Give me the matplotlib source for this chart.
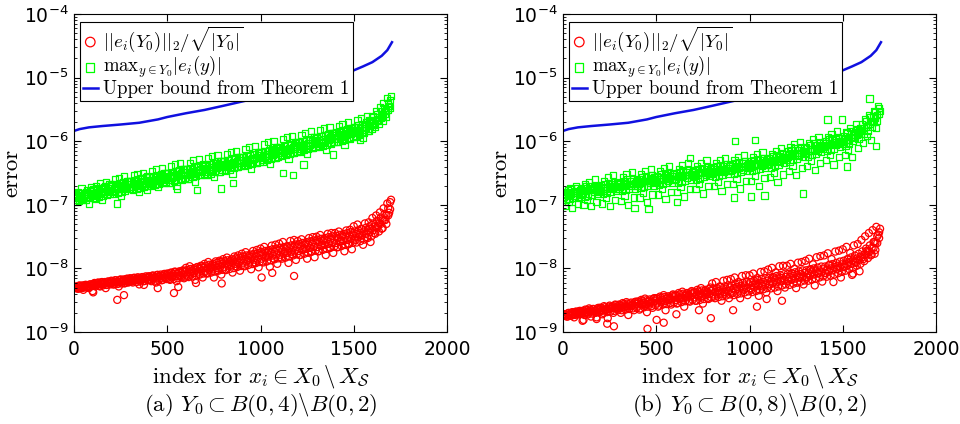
import numpy as np
import matplotlib
matplotlib.use("Agg")
import matplotlib.pyplot as plt
from matplotlib.font_manager import FontProperties
from matplotlib.ticker import LogLocator, NullFormatter, LogFormatterSciNotation

# index positions of the plotted points (every 10th index of X_0 \ X_S, plus the ones in between)
idx = np.arange(0, 1701, 10)
idx2 = np.arange(5, 1700, 10)

# panel (a): Y_0 in B(0,4)\B(0,2)
red_a = np.array([
    5.0, 5.2, 4.8, 5.4, 5.1, 4.6, 5.5, 5.3, 4.9, 5.6,
    4.4, 5.9, 5.5, 6.0, 5.2, 6.1, 5.7, 4.9, 6.2, 5.8,
    6.4, 5.6, 6.5, 6.1, 5.2, 6.7, 6.3, 5.8, 6.8, 6.0,
    7.0, 6.2, 7.1, 6.6, 7.2, 5.6, 6.9, 7.3, 6.4, 7.1,
    7.5, 6.6, 7.7, 7.2, 6.0, 7.9, 7.4, 6.5, 8.0, 7.1,
    8.3, 6.8, 8.6, 7.6, 8.9, 6.3, 8.7, 7.6, 9.2, 7.0,
    10.2, 7.6, 10.8, 8.9, 9.6, 6.6, 10.5, 8.2, 11.0, 7.2,
    11.8, 8.4, 12.6, 10.2, 11.2, 7.2, 12.9, 9.4, 13.2, 8.0,
    14.0, 9.6, 14.8, 11.8, 13.2, 8.6, 15.4, 10.8, 16.0, 9.2,
    17.0, 11.0, 18.0, 13.6, 15.8, 9.7, 18.8, 12.4, 19.5, 10.4,
    20.5, 12.8, 21.8, 15.8, 18.6, 10.6, 22.8, 14.2, 23.6, 11.8,
    24.5, 14.8, 26.0, 18.5, 22.0, 12.2, 27.0, 16.8, 28.0, 13.6,
    27.0, 16.2, 28.7, 20.3, 24.3, 14.2, 30.0, 18.4, 31.0, 15.0,
    31.5, 18.5, 33.5, 23.5, 28.5, 16.2, 35.0, 21.0, 36.0, 17.5,
    36.0, 21.5, 38.0, 27.0, 33.0, 18.6, 39.5, 24.0, 40.5, 20.0,
    46.0, 28.0, 49.0, 34.0, 42.0, 23.5, 51.0, 31.0, 53.0, 26.0,
    62.0, 36.0, 68.0, 46.0, 76.0, 42.0, 88.0, 58.0, 105.0, 75.0,
    120.0]) * 1e-9
red_a2 = np.array([
    5.1, 4.9, 5.3, 5.0, 5.4, 5.2, 5.5, 5.1, 5.6, 5.4,
    5.7, 5.5, 5.9, 5.6, 6.0, 5.8, 6.1, 5.5, 6.2, 6.0,
    6.3, 6.1, 6.5, 6.0, 6.6, 6.2, 6.7, 6.4, 6.9, 6.5,
    6.9, 6.6, 7.1, 6.7, 7.2, 6.9, 7.3, 7.0, 7.5, 7.2,
    7.5, 7.1, 7.7, 7.3, 7.9, 7.5, 8.0, 7.6, 8.2, 7.8,
    8.2, 7.6, 8.5, 8.0, 8.8, 8.2, 9.0, 8.4, 9.3, 8.7,
    9.4, 8.8, 9.8, 9.1, 10.1, 9.5, 10.5, 9.8, 10.8, 10.2,
    11.0, 10.3, 11.4, 10.6, 11.8, 11.0, 12.2, 11.3, 12.6, 11.8,
    13.0, 12.0, 13.4, 12.5, 13.9, 12.9, 14.4, 13.3, 14.8, 13.8,
    15.5, 14.2, 16.0, 14.8, 16.5, 15.3, 17.0, 15.8, 17.5, 16.3,
    18.2, 16.7, 18.8, 17.3, 19.4, 17.8, 20.0, 18.4, 20.6, 19.0,
    21.0, 19.3, 21.7, 20.0, 22.4, 20.6, 23.0, 21.2, 23.8, 21.9,
    24.3, 22.3, 25.1, 23.0, 25.9, 23.8, 26.7, 24.6, 27.6, 25.4,
    28.3, 26.0, 29.2, 26.8, 30.1, 27.7, 31.0, 28.6, 32.0, 29.4,
    32.6, 29.8, 33.7, 30.8, 34.8, 31.8, 35.9, 32.9, 37.0, 34.0,
    38.0, 34.8, 39.6, 36.3, 41.4, 37.9, 43.5, 39.8, 46.0, 42.0,
    51.0, 46.0, 56.0, 51.0, 63.0, 57.0, 72.0, 68.0, 88.0, 110.0]) * 1e-9
red_a3 = np.array([
    4.9, 5.0, 4.8, 5.1, 4.9, 5.2, 5.0, 5.3, 5.1, 5.3,
    5.4, 5.2, 5.6, 5.3, 5.7, 5.4, 5.8, 5.5, 5.9, 5.6,
    5.9, 5.6, 6.1, 5.7, 6.2, 5.8, 6.3, 5.9, 6.4, 6.1,
    6.3, 6.0, 6.5, 6.1, 6.6, 6.2, 6.7, 6.3, 6.8, 6.5,
    6.7, 6.3, 6.9, 6.4, 7.0, 6.5, 7.1, 6.6, 7.3, 6.8,
    7.2, 6.6, 7.4, 6.8, 7.6, 7.0, 7.8, 7.2, 8.0, 7.4,
    8.0, 7.3, 8.3, 7.5, 8.6, 7.8, 8.9, 8.0, 9.2, 8.3,
    9.2, 8.3, 9.5, 8.6, 9.9, 8.9, 10.2, 9.2, 10.6, 9.5,
    10.6, 9.4, 11.0, 9.8, 11.4, 10.1, 11.8, 10.5, 12.2, 10.9,
    12.3, 10.8, 12.8, 11.3, 13.3, 11.7, 13.7, 12.1, 14.2, 12.6,
    14.2, 12.4, 14.8, 12.9, 15.3, 13.4, 15.9, 13.9, 16.5, 14.4,
    16.4, 14.2, 17.0, 14.8, 17.6, 15.4, 18.3, 16.0, 19.0, 16.6,
    18.8, 16.3, 19.5, 17.0, 20.3, 17.6, 21.0, 18.3, 21.8, 19.0,
    21.7, 18.8, 22.6, 19.6, 23.4, 20.3, 24.3, 21.1, 25.2, 21.9,
    25.0, 21.6, 26.0, 22.5, 27.0, 23.4, 28.0, 24.3, 29.0, 25.2,
    29.5, 25.5, 31.0, 26.8, 32.8, 28.3, 34.8, 30.0, 37.0, 32.0,
    40.0, 35.0, 44.0, 38.0, 50.0, 43.0, 57.0, 50.0, 68.0, 85.0]) * 1e-9
red_a_out_idx = [103, 232, 268, 375, 449, 536, 559, 654, 792, 1006, 1063, 1180]
red_a_out = np.array([4.2, 3.2, 3.8, 5.5, 4.9, 4.1, 5.1, 5.9, 5.8, 7.2, 8.5, 7.6]) * 1e-9

green_a = np.array([
    1.4, 1.1, 1.6, 1.3, 1.8, 1.2, 1.5, 1.7, 1.05, 1.9,
    1.7, 1.3, 2.0, 1.5, 2.2, 1.2, 1.9, 2.3, 1.6, 2.1,
    2.1, 1.6, 2.5, 1.8, 2.6, 1.4, 2.2, 2.8, 1.9, 2.4,
    2.4, 1.8, 2.9, 2.1, 3.0, 1.6, 2.6, 3.2, 2.0, 2.8,
    2.7, 2.1, 3.4, 2.4, 3.6, 1.9, 2.9, 3.8, 2.2, 3.2,
    3.1, 2.2, 4.0, 2.7, 4.3, 2.0, 3.4, 4.6, 2.5, 3.7,
    3.6, 2.6, 4.6, 3.1, 5.0, 2.3, 3.9, 5.2, 2.9, 4.3,
    4.1, 3.0, 5.4, 3.6, 5.8, 2.7, 4.5, 6.1, 3.3, 4.9,
    4.8, 3.5, 6.3, 4.2, 6.8, 3.1, 5.2, 7.1, 3.9, 5.7,
    5.7, 4.2, 7.5, 5.0, 8.1, 3.7, 6.2, 8.5, 4.6, 6.8,
    6.8, 5.0, 8.9, 5.9, 9.6, 4.4, 7.4, 10.2, 5.5, 8.1,
    8.2, 6.0, 10.7, 7.1, 11.5, 5.3, 8.9, 12.2, 6.6, 9.7,
    9.7, 7.1, 12.6, 8.4, 13.6, 6.3, 10.5, 14.3, 7.8, 11.4,
    11.3, 8.3, 14.8, 9.8, 15.8, 7.4, 12.3, 16.8, 9.2, 13.3,
    13.4, 9.9, 17.5, 11.6, 18.7, 8.8, 14.6, 19.8, 10.9, 15.8,
    16.4, 12.0, 21.2, 14.3, 22.8, 11.3, 18.6, 25.0, 14.6, 21.0,
    25.0, 18.0, 30.0, 22.0, 34.0, 24.0, 40.0, 30.0, 48.0, 36.0,
    52.0]) * 1e-7
green_a2 = np.array([
    1.45, 1.3, 1.5, 1.35, 1.55, 1.4, 1.6, 1.45, 1.65, 1.5,
    1.75, 1.55, 1.8, 1.6, 1.85, 1.65, 1.95, 1.7, 2.0, 1.8,
    2.05, 1.85, 2.1, 1.9, 2.2, 1.95, 2.25, 2.0, 2.35, 2.1,
    2.35, 2.1, 2.45, 2.2, 2.5, 2.25, 2.6, 2.35, 2.7, 2.45,
    2.7, 2.45, 2.8, 2.55, 2.9, 2.6, 3.0, 2.7, 3.1, 2.8,
    3.1, 2.8, 3.25, 2.9, 3.35, 3.0, 3.5, 3.1, 3.6, 3.25,
    3.6, 3.25, 3.75, 3.35, 3.9, 3.5, 4.0, 3.6, 4.15, 3.75,
    4.15, 3.75, 4.3, 3.9, 4.45, 4.0, 4.6, 4.15, 4.8, 4.3,
    4.8, 4.35, 5.0, 4.5, 5.2, 4.7, 5.4, 4.9, 5.6, 5.1,
    5.7, 5.1, 5.9, 5.3, 6.1, 5.5, 6.3, 5.7, 6.6, 6.0,
    6.7, 6.0, 7.0, 6.3, 7.3, 6.6, 7.6, 6.9, 7.9, 7.2,
    8.1, 7.3, 8.4, 7.6, 8.8, 7.9, 9.1, 8.2, 9.5, 8.6,
    9.7, 8.7, 10.1, 9.1, 10.5, 9.5, 10.9, 9.9, 11.4, 10.3,
    11.5, 10.4, 12.0, 10.8, 12.5, 11.3, 13.0, 11.8, 13.5, 12.3,
    13.7, 12.4, 14.3, 12.9, 14.9, 13.5, 15.5, 14.1, 16.2, 14.8,
    16.6, 15.2, 17.6, 16.0, 18.7, 17.0, 19.9, 18.2, 21.5, 19.6,
    24.0, 21.5, 26.5, 24.0, 29.5, 27.0, 33.0, 31.0, 40.0, 44.0]) * 1e-7
green_a3 = np.array([
    1.2, 1.35, 1.15, 1.3, 1.25, 1.4, 1.2, 1.35, 1.3, 1.45,
    1.4, 1.25, 1.5, 1.35, 1.55, 1.4, 1.6, 1.45, 1.65, 1.5,
    1.65, 1.5, 1.75, 1.55, 1.8, 1.6, 1.85, 1.65, 1.9, 1.75,
    1.9, 1.7, 2.0, 1.8, 2.05, 1.85, 2.1, 1.9, 2.2, 2.0,
    2.2, 1.95, 2.3, 2.05, 2.35, 2.1, 2.45, 2.2, 2.55, 2.3,
    2.5, 2.25, 2.65, 2.35, 2.75, 2.45, 2.85, 2.55, 2.95, 2.65,
    2.9, 2.6, 3.05, 2.7, 3.15, 2.8, 3.3, 2.95, 3.4, 3.05,
    3.35, 3.0, 3.5, 3.1, 3.65, 3.25, 3.8, 3.35, 3.95, 3.5,
    3.9, 3.45, 4.05, 3.6, 4.25, 3.75, 4.4, 3.9, 4.6, 4.1,
    4.6, 4.1, 4.8, 4.25, 5.0, 4.45, 5.2, 4.6, 5.4, 4.8,
    5.4, 4.8, 5.65, 5.0, 5.9, 5.25, 6.15, 5.45, 6.4, 5.7,
    6.5, 5.8, 6.8, 6.0, 7.1, 6.3, 7.4, 6.6, 7.7, 6.9,
    7.7, 6.9, 8.1, 7.2, 8.5, 7.5, 8.8, 7.9, 9.2, 8.2,
    9.1, 8.1, 9.5, 8.5, 10.0, 8.9, 10.4, 9.3, 10.9, 9.7,
    10.8, 9.6, 11.3, 10.1, 11.8, 10.6, 12.4, 11.1, 13.0, 11.6,
    13.3, 11.9, 14.1, 12.6, 15.0, 13.4, 16.0, 14.3, 17.3, 15.4,
    19.0, 17.0, 21.0, 18.5, 23.5, 21.0, 26.5, 24.0, 31.0, 34.0]) * 1e-7
green_a_out_idx = [232, 390, 551, 658, 787, 854, 1119, 1176, 1230, 1390, 1533]
green_a_out = np.array([1.05, 1.7, 1.8, 1.7, 1.8, 2.2, 3.2, 2.9, 4.3, 6.2, 10.5]) * 1e-7

# panel (b): Y_0 in B(0,8)\B(0,2)
red_b = np.array([
    1.85, 1.9, 1.75, 2.0, 1.8, 2.05, 1.7, 2.1, 1.9, 2.15,
    2.1, 1.55, 2.25, 2.0, 2.35, 1.75, 2.3, 2.15, 1.7, 2.4,
    2.4, 1.9, 2.55, 2.2, 1.65, 2.6, 2.45, 2.0, 2.7, 2.3,
    2.7, 2.0, 2.85, 2.45, 2.95, 1.85, 2.8, 2.6, 2.2, 3.0,
    3.0, 2.25, 3.2, 2.7, 3.35, 2.05, 3.1, 2.9, 2.4, 3.4,
    3.4, 2.5, 3.6, 3.0, 3.8, 2.2, 3.5, 3.2, 2.7, 3.9,
    3.8, 2.8, 4.1, 3.4, 4.3, 2.5, 3.9, 3.6, 3.0, 4.4,
    4.2, 3.1, 4.6, 3.8, 4.9, 2.8, 4.4, 4.0, 3.3, 5.0,
    5.8, 3.6, 6.1, 4.4, 5.2, 3.1, 6.4, 4.0, 6.6, 3.4,
    6.8, 4.1, 7.2, 5.1, 6.1, 3.4, 7.6, 4.6, 7.8, 3.8,
    7.8, 4.6, 8.3, 5.8, 7.0, 3.7, 8.8, 5.2, 9.0, 4.2,
    9.6, 5.6, 10.2, 7.2, 8.6, 4.4, 10.8, 6.4, 11.0, 5.0,
    11.0, 6.4, 11.8, 8.3, 9.8, 4.9, 12.3, 7.3, 12.6, 5.6,
    13.2, 7.2, 14.2, 9.6, 11.6, 5.4, 15.0, 8.4, 15.6, 6.2,
    16.0, 8.4, 17.3, 11.4, 14.0, 6.1, 18.4, 9.8, 19.0, 7.2,
    20.0, 10.5, 21.8, 14.0, 17.5, 7.9, 23.0, 12.2, 24.2, 9.0,
    28.0, 14.0, 32.0, 19.0, 36.0, 16.0, 40.0, 26.0, 45.0, 34.0,
    42.0]) * 1e-9
red_b2 = np.array([
    1.9, 1.8, 1.95, 1.85, 2.0, 1.9, 2.05, 1.95, 2.1, 2.0,
    2.15, 2.0, 2.2, 2.05, 2.25, 2.1, 2.3, 2.15, 2.35, 2.2,
    2.4, 2.2, 2.45, 2.3, 2.5, 2.35, 2.55, 2.4, 2.65, 2.45,
    2.65, 2.45, 2.75, 2.55, 2.8, 2.6, 2.9, 2.7, 2.95, 2.75,
    3.0, 2.75, 3.1, 2.85, 3.15, 2.95, 3.25, 3.0, 3.35, 3.1,
    3.35, 3.1, 3.45, 3.2, 3.55, 3.3, 3.65, 3.4, 3.75, 3.5,
    3.75, 3.45, 3.9, 3.6, 4.0, 3.7, 4.1, 3.8, 4.2, 3.9,
    4.2, 3.85, 4.35, 4.0, 4.5, 4.15, 4.6, 4.25, 4.75, 4.4,
    4.75, 4.3, 4.9, 4.5, 5.1, 4.65, 5.2, 4.8, 5.4, 5.0,
    5.4, 4.9, 5.6, 5.1, 5.75, 5.25, 5.9, 5.4, 6.1, 5.6,
    6.1, 5.5, 6.35, 5.75, 6.55, 5.95, 6.8, 6.15, 7.0, 6.4,
    7.1, 6.4, 7.35, 6.65, 7.6, 6.9, 7.85, 7.1, 8.1, 7.35,
    8.15, 7.35, 8.45, 7.6, 8.7, 7.9, 9.0, 8.15, 9.3, 8.45,
    9.35, 8.4, 9.7, 8.7, 10.0, 9.0, 10.3, 9.3, 10.7, 9.7,
    10.7, 9.6, 11.2, 10.0, 11.7, 10.5, 12.2, 11.0, 12.8, 11.6,
    13.2, 11.9, 14.0, 12.6, 14.9, 13.4, 15.9, 14.3, 17.0, 15.4,
    18.5, 16.5, 20.5, 18.5, 23.0, 21.0, 26.0, 25.0, 32.0, 37.0]) * 1e-9
red_b3 = np.array([
    1.8, 1.85, 1.75, 1.9, 1.8, 1.95, 1.85, 2.0, 1.9, 2.0,
    1.95, 1.85, 2.05, 1.9, 2.1, 1.95, 2.15, 2.0, 2.2, 2.05,
    2.15, 2.0, 2.25, 2.05, 2.3, 2.1, 2.35, 2.15, 2.4, 2.2,
    2.4, 2.2, 2.45, 2.25, 2.5, 2.3, 2.55, 2.35, 2.6, 2.4,
    2.6, 2.35, 2.7, 2.45, 2.75, 2.5, 2.8, 2.55, 2.9, 2.65,
    2.9, 2.6, 3.0, 2.7, 3.05, 2.75, 3.15, 2.85, 3.25, 2.9,
    3.2, 2.85, 3.3, 2.95, 3.4, 3.05, 3.5, 3.1, 3.6, 3.2,
    3.5, 3.1, 3.6, 3.2, 3.7, 3.3, 3.8, 3.4, 3.95, 3.5,
    3.9, 3.4, 4.0, 3.55, 4.15, 3.65, 4.25, 3.75, 4.4, 3.9,
    4.35, 3.8, 4.5, 3.95, 4.65, 4.05, 4.8, 4.2, 4.95, 4.35,
    4.9, 4.25, 5.05, 4.4, 5.25, 4.55, 5.4, 4.7, 5.6, 4.9,
    5.6, 4.85, 5.8, 5.0, 6.0, 5.2, 6.25, 5.4, 6.5, 5.6,
    6.4, 5.5, 6.65, 5.75, 6.9, 5.95, 7.15, 6.2, 7.4, 6.45,
    7.4, 6.4, 7.7, 6.65, 8.0, 6.9, 8.3, 7.2, 8.65, 7.5,
    8.5, 7.4, 8.9, 7.7, 9.3, 8.0, 9.7, 8.4, 10.2, 8.8,
    10.5, 9.2, 11.1, 9.7, 11.8, 10.3, 12.6, 11.0, 13.5, 11.8,
    15.0, 13.0, 16.5, 14.5, 18.5, 16.5, 21.0, 19.5, 25.0, 30.0]) * 1e-9
red_b_out_idx = [105, 180, 237, 273, 453, 502, 540, 608, 729, 793, 912, 1040, 1092, 1174, 1555, 1671]
red_b_out = np.array([1.5, 1.6, 1.35, 1.23, 1.12, 1.55, 1.4, 1.9, 2.2, 1.65,
                      2.2, 2.5, 3.3, 3.1, 8.3, 17.0]) * 1e-9

green_b = np.array([
    1.3, 0.95, 1.6, 1.1, 1.8, 0.9, 1.4, 2.0, 1.05, 1.7,
    1.5, 1.0, 2.1, 1.2, 2.3, 0.95, 1.7, 2.5, 1.1, 1.9,
    1.6, 1.05, 2.4, 1.3, 2.7, 0.95, 1.9, 2.9, 1.2, 2.2,
    1.8, 1.15, 2.7, 1.4, 3.0, 1.0, 2.1, 3.3, 1.3, 2.4,
    2.0, 1.3, 3.0, 1.55, 3.4, 1.1, 2.4, 3.7, 1.45, 2.7,
    2.3, 1.45, 3.4, 1.75, 3.8, 1.25, 2.6, 4.1, 1.6, 3.0,
    2.5, 1.6, 3.7, 1.9, 4.2, 1.35, 2.9, 4.6, 1.75, 3.3,
    2.8, 1.75, 4.1, 2.1, 4.6, 1.5, 3.2, 5.0, 1.95, 3.6,
    3.1, 1.95, 4.5, 2.3, 5.1, 1.65, 3.5, 5.5, 2.15, 4.0,
    3.4, 2.15, 5.0, 2.55, 5.6, 1.8, 3.9, 6.1, 2.4, 4.4,
    3.8, 2.4, 5.6, 2.85, 6.3, 2.0, 4.3, 6.8, 2.65, 4.9,
    4.3, 2.7, 6.3, 3.2, 7.1, 2.3, 4.9, 7.8, 3.0, 5.6,
    5.5, 3.4, 8.0, 4.1, 9.0, 2.9, 6.2, 9.8, 3.8, 7.0,
    6.5, 4.1, 9.5, 4.9, 10.8, 3.5, 7.5, 11.8, 4.6, 8.4,
    8.0, 5.0, 11.6, 6.0, 13.0, 4.3, 9.1, 14.2, 5.6, 10.2,
    9.6, 6.0, 14.0, 7.4, 16.0, 5.6, 11.8, 18.5, 7.8, 14.5,
    15.0, 9.5, 22.0, 12.0, 26.0, 10.5, 20.0, 30.0, 16.0, 36.0,
    30.0]) * 1e-7
green_b2 = np.array([
    1.35, 1.2, 1.45, 1.25, 1.5, 1.3, 1.4, 1.55, 1.3, 1.45,
    1.55, 1.35, 1.65, 1.4, 1.7, 1.45, 1.6, 1.75, 1.5, 1.65,
    1.7, 1.5, 1.8, 1.55, 1.85, 1.6, 1.75, 1.95, 1.65, 1.8,
    1.9, 1.65, 2.0, 1.7, 2.1, 1.75, 1.95, 2.15, 1.8, 2.0,
    2.1, 1.85, 2.25, 1.9, 2.35, 1.95, 2.2, 2.4, 2.0, 2.25,
    2.35, 2.05, 2.5, 2.1, 2.6, 2.2, 2.4, 2.65, 2.25, 2.45,
    2.55, 2.25, 2.7, 2.3, 2.85, 2.4, 2.65, 2.9, 2.5, 2.75,
    2.85, 2.5, 3.0, 2.6, 3.15, 2.7, 2.95, 3.2, 2.8, 3.05,
    3.15, 2.75, 3.3, 2.85, 3.45, 2.95, 3.25, 3.55, 3.05, 3.4,
    3.5, 3.05, 3.7, 3.2, 3.85, 3.3, 3.6, 3.95, 3.4, 3.75,
    3.9, 3.4, 4.1, 3.55, 4.3, 3.7, 4.05, 4.45, 3.85, 4.25,
    4.45, 3.85, 4.7, 4.05, 4.95, 4.25, 4.7, 5.2, 4.5, 5.0,
    5.6, 4.8, 5.9, 5.0, 6.2, 5.3, 5.9, 6.5, 5.6, 6.3,
    6.6, 5.7, 7.0, 6.0, 7.4, 6.3, 7.0, 7.8, 6.7, 7.5,
    8.1, 7.0, 8.6, 7.3, 9.0, 7.7, 8.6, 9.5, 8.2, 9.1,
    9.8, 8.5, 10.6, 9.2, 11.5, 10.0, 11.2, 12.5, 11.0, 13.0,
    15.0, 13.0, 17.0, 14.5, 19.0, 16.5, 20.0, 23.0, 21.0, 27.0]) * 1e-7
green_b3 = np.array([
    1.6, 1.45, 1.7, 1.5, 1.75, 1.55, 1.65, 1.8, 1.6, 1.75,
    1.85, 1.65, 1.95, 1.7, 2.0, 1.75, 1.9, 2.05, 1.8, 1.95,
    2.05, 1.8, 2.15, 1.9, 2.2, 1.95, 2.1, 2.3, 2.0, 2.15,
    2.3, 2.0, 2.4, 2.1, 2.5, 2.15, 2.35, 2.55, 2.2, 2.45,
    2.55, 2.25, 2.7, 2.35, 2.8, 2.4, 2.65, 2.9, 2.5, 2.75,
    2.85, 2.5, 3.0, 2.6, 3.1, 2.7, 2.95, 3.2, 2.8, 3.05,
    3.15, 2.75, 3.3, 2.85, 3.45, 2.95, 3.25, 3.55, 3.05, 3.4,
    3.5, 3.05, 3.65, 3.2, 3.8, 3.3, 3.6, 3.9, 3.4, 3.75,
    3.85, 3.35, 4.05, 3.5, 4.2, 3.65, 4.0, 4.35, 3.75, 4.15,
    4.3, 3.75, 4.5, 3.9, 4.7, 4.05, 4.45, 4.85, 4.2, 4.6,
    4.8, 4.2, 5.0, 4.35, 5.25, 4.55, 5.0, 5.45, 4.7, 5.2,
    5.5, 4.8, 5.8, 5.0, 6.1, 5.3, 5.8, 6.4, 5.6, 6.2,
    6.9, 6.0, 7.3, 6.3, 7.7, 6.6, 7.3, 8.0, 7.0, 7.8,
    8.2, 7.1, 8.7, 7.5, 9.2, 7.9, 8.7, 9.6, 8.4, 9.3,
    10.0, 8.7, 10.6, 9.1, 11.2, 9.6, 10.7, 11.8, 10.2, 11.3,
    12.2, 10.6, 13.2, 11.5, 14.3, 12.4, 14.0, 15.5, 13.7, 16.2,
    18.5, 16.0, 21.0, 18.0, 23.5, 20.5, 25.0, 28.5, 26.0, 33.0]) * 1e-7
green_b_out_idx = [383, 458, 610, 682, 919, 924, 1008, 1030, 1080, 1288, 1418, 1498, 1521, 1643, 1679]
green_b_out = np.array([0.89, 0.85, 1.1, 5.5, 1.3, 10.0, 1.35, 10.5, 1.4, 1.5,
                        22.0, 22.0, 4.0, 47.0, 8.5]) * 1e-7

# upper bound from Theorem 1 (same in both panels)
bound_idx = [0, 30, 80, 150, 250, 350, 450, 500, 600, 700, 800, 900, 1000,
             1100, 1200, 1300, 1400, 1500, 1550, 1600, 1650, 1680, 1705]
bound = np.array([1.45, 1.55, 1.65, 1.73, 1.83, 1.95, 2.2, 2.4, 2.75, 3.1, 3.6,
                  4.2, 4.9, 5.6, 6.5, 7.6, 9.5, 13.0, 15.0, 17.5, 22.0, 27.0, 36.0]) * 1e-6

panels = [
    ("(a) ", r"$Y_0 \subset B(0,4)\backslash B(0,2)$",
     [red_a, red_a2, red_a3], red_a_out_idx, red_a_out,
     [green_a, green_a2, green_a3], green_a_out_idx, green_a_out),
    ("(b) ", r"$Y_0 \subset B(0,8)\backslash B(0,2)$",
     [red_b, red_b2, red_b3], red_b_out_idx, red_b_out,
     [green_b, green_b2, green_b3], green_b_out_idx, green_b_out),
]

label_font = FontProperties(family='cmr10', size=16.5, math_fontfamily='cm')
legend_font = FontProperties(family='cmr10', size=13.5, math_fontfamily='cm')

fig = plt.figure(figsize=(9.6, 4.24), dpi=100)
lefts = [74 / 960, 563 / 960]

for left, (tag, cap, reds, r_oi, r_ov, greens, g_oi, g_ov) in zip(lefts, panels):
    ax = fig.add_axes([left, 92 / 424, 373 / 960, 318 / 424])

    red_x = np.concatenate([idx, idx2, idx2, r_oi])
    red_y = np.concatenate(reds + [r_ov])
    green_x = np.concatenate([idx, idx2, idx2, g_oi])
    green_y = np.concatenate(greens + [g_ov])

    ax.scatter(red_x, red_y, s=26, facecolors='none', edgecolors='#ff0000', linewidths=0.9,
               marker='o', label=r"$||e_i(Y_0)||_2/\sqrt{|Y_0|}$")
    ax.scatter(green_x, green_y, s=20, facecolors='none', edgecolors='#00ff00', linewidths=0.9,
               marker='s', label=r"$\mathrm{max}_{y\in Y_0}|e_i(y)|$")
    ax.plot(bound_idx, bound, color='#1010e0', lw=1.8, label='Upper bound from Theorem 1')

    ax.set_yscale('log')
    ax.set_ylim(1e-9, 1e-4)
    ax.set_xlim(0, 2000)
    ax.set_xticks([0, 500, 1000, 1500, 2000])
    ax.yaxis.set_major_locator(LogLocator(base=10, numticks=10))
    ax.yaxis.set_minor_locator(LogLocator(base=10, subs=np.arange(2, 10), numticks=20))
    ax.yaxis.set_minor_formatter(NullFormatter())
    ax.yaxis.set_major_formatter(LogFormatterSciNotation())
    ax.tick_params(which='both', direction='in', top=True, right=True, labelsize=13.5)
    ax.tick_params(which='major', length=5, pad=4)
    ax.tick_params(axis='x', which='major', pad=6)
    ax.tick_params(which='minor', length=2.5)
    for sp in ax.spines.values():
        sp.set_linewidth(0.8)

    ax.set_xlabel(r"index for $x_i \in X_0 \,\backslash\, X_{\mathcal{S}}$",
                  fontproperties=label_font, labelpad=3)
    ax.set_ylabel("error", fontproperties=label_font, labelpad=2)
    ax.text(0.5, -0.23, tag + cap, transform=ax.transAxes, ha='center', va='center',
            fontproperties=label_font)

    leg = ax.legend(loc='upper left', bbox_to_anchor=(0.016, 0.975), borderaxespad=0,
                    prop=legend_font, fancybox=False, framealpha=1, edgecolor='black',
                    handlelength=0.8, handletextpad=0.3, labelspacing=0.0,
                    borderpad=0.15, markerscale=1.35)
    leg.get_frame().set_linewidth(0.8)

fig.savefig("out.png", dpi=100)
